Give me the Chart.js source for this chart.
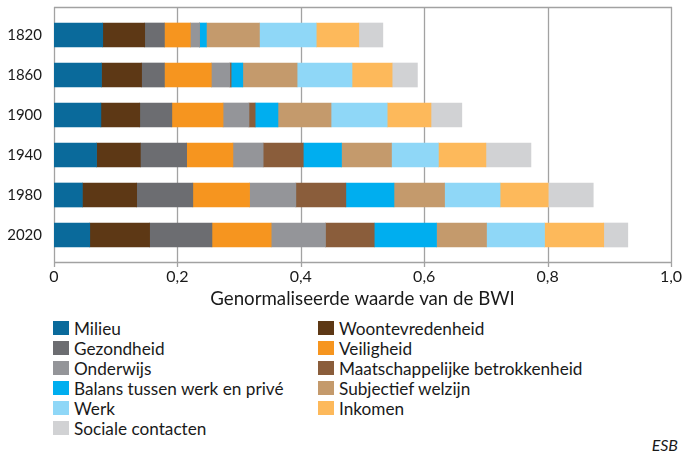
<!DOCTYPE html>
<html>
<head>
<meta charset="utf-8">
<script src="https://cdn.jsdelivr.net/npm/chart.js@4"></script>
<style>
  body { margin: 0; background: #fff; }
  #wrap { position: relative; width: 682px; height: 464px; font-family: Lato, sans-serif; color: #1a1a1a; }
  #chart { position: absolute; left: 0; top: 0; }
  #legend { position: absolute; left: 53px; top: 318px; display: grid; grid-template-columns: 265px auto; grid-auto-rows: 20px; font-size: 17.2px; }
  #legend div { display: flex; align-items: center; white-space: nowrap; }
  #legend span.box { width: 16px; height: 14px; margin-right: 5px; flex: none; }
  #source { position: absolute; right: 4px; top: 435px; font-size: 16px; font-style: italic; line-height: 20px; }
</style>
</head>
<body>
<div id="wrap">
  <canvas id="chart" width="682" height="310"></canvas>
  <div id="legend"></div>
  <div id="source">ESB</div>
</div>
<script>
/* eslint-disable no-undef */

const years = ['1820', '1860', '1900', '1940', '1980', '2020']
const xTickLabels = ['0', '0,2', '0,4', '0,6', '0,8', '1,0']

const milieu = [0.079, 0.077, 0.076, 0.069, 0.046, 0.058]
const woontevredenheid = [0.068, 0.065, 0.063, 0.071, 0.088, 0.097]
const gezondheid = [0.032, 0.037, 0.052, 0.075, 0.091, 0.101]
const veiligheid = [0.042, 0.076, 0.083, 0.075, 0.092, 0.096]
const onderwijs = [0.015, 0.030, 0.042, 0.049, 0.075, 0.088]
const maatschappelijk = [0, 0.002, 0.010, 0.065, 0.081, 0.079]
const balans = [0.011, 0.019, 0.037, 0.062, 0.078, 0.101]
const subjectief = [0.086, 0.088, 0.086, 0.081, 0.082, 0.081]
const werk = [0.092, 0.089, 0.091, 0.076, 0.090, 0.094]
const inkomen = [0.069, 0.065, 0.071, 0.077, 0.078, 0.096]
const sociale = [0.039, 0.041, 0.050, 0.073, 0.073, 0.039]

const series = [
  { label: 'Milieu', data: milieu, color: '#0a6a9b' },
  { label: 'Woontevredenheid', data: woontevredenheid, color: '#5d3815' },
  { label: 'Gezondheid', data: gezondheid, color: '#6c6d71' },
  { label: 'Veiligheid', data: veiligheid, color: '#f6951f' },
  { label: 'Onderwijs', data: onderwijs, color: '#949599' },
  { label: 'Maatschappelijke betrokkenheid', data: maatschappelijk, color: '#8a5d3b' },
  { label: 'Balans tussen werk en privé', data: balans, color: '#00aeef' },
  { label: 'Subjectief welzijn', data: subjectief, color: '#c49a6c' },
  { label: 'Werk', data: werk, color: '#8fd7f7' },
  { label: 'Inkomen', data: inkomen, color: '#fdb95b' },
  { label: 'Sociale contacten', data: sociale, color: '#d1d2d4' }
]

const gridColor = '#a2a2a2'

// grid lines, top line and axis run a bit past the bar area
const frame = {
  id: 'frame',
  beforeDatasetsDraw (chart) {
    const { ctx, chartArea: area, scales: { x } } = chart
    const top = area.top - 8
    const bottom = area.bottom + 7
    ctx.save()
    ctx.strokeStyle = gridColor
    ctx.lineWidth = 1.3
    ctx.beginPath()
    x.ticks.forEach(tick => {
      const px = Math.round(x.getPixelForValue(tick.value)) + 0.5
      ctx.moveTo(px, top)
      ctx.lineTo(px, bottom + 5)
    })
    ctx.moveTo(area.left, top + 0.5)
    ctx.lineTo(area.right + 1, top + 0.5)
    ctx.moveTo(area.left, bottom + 0.5)
    ctx.lineTo(area.right + 1, bottom + 0.5)
    ctx.stroke()
    ctx.restore()
  }
}

const noPadding = scale => {
  scale.paddingTop = 0
  scale.paddingBottom = 0
  scale.paddingLeft = 0
  scale.paddingRight = 0
}

document.addEventListener('DOMContentLoaded', () => {
  const chart = new Chart(document.getElementById('chart'), {
    type: 'bar',
    data: {
      labels: years,
      datasets: series.map(s => ({
        label: s.label,
        data: s.data,
        backgroundColor: s.color,
        borderWidth: 0,
        barThickness: 24
      }))
    },
    options: {
      indexAxis: 'y',
      responsive: false,
      animation: false,
      layout: { padding: { top: 15, right: 11, left: 0, bottom: 0 } },
      plugins: {
        legend: { display: false },
        tooltip: { enabled: false }
      },
      scales: {
        x: {
          stacked: true,
          min: 0,
          max: 1,
          grid: { display: false, drawTicks: false },
          border: { display: false },
          ticks: {
            stepSize: 0.2,
            padding: 12,
            color: '#1a1a1a',
            font: { family: 'Lato', size: 16 },
            callback: (value, index) => xTickLabels[index]
          },
          title: {
            display: true,
            text: 'Genormaliseerde waarde van de BWI',
            color: '#1a1a1a',
            font: { family: 'Lato', size: 18.7 },
            padding: { top: 0, bottom: 0 }
          },
          afterFit: scale => {
            scale.height = 55
            noPadding(scale)
          }
        },
        y: {
          stacked: true,
          grid: { display: false, drawTicks: false },
          border: { display: false },
          ticks: {
            padding: 12,
            color: '#1a1a1a',
            font: { family: 'Lato', size: 15 }
          },
          afterFit: scale => {
            scale.width = 54
            noPadding(scale)
          }
        }
      }
    },
    plugins: [frame]
  })

  const legend = document.getElementById('legend')
  chart.data.datasets.forEach(dataset => {
    const item = document.createElement('div')
    const box = document.createElement('span')
    box.className = 'box'
    box.style.background = dataset.backgroundColor
    item.appendChild(box)
    item.appendChild(document.createTextNode(dataset.label))
    legend.appendChild(item)
  })
})
</script>
</body>
</html>
